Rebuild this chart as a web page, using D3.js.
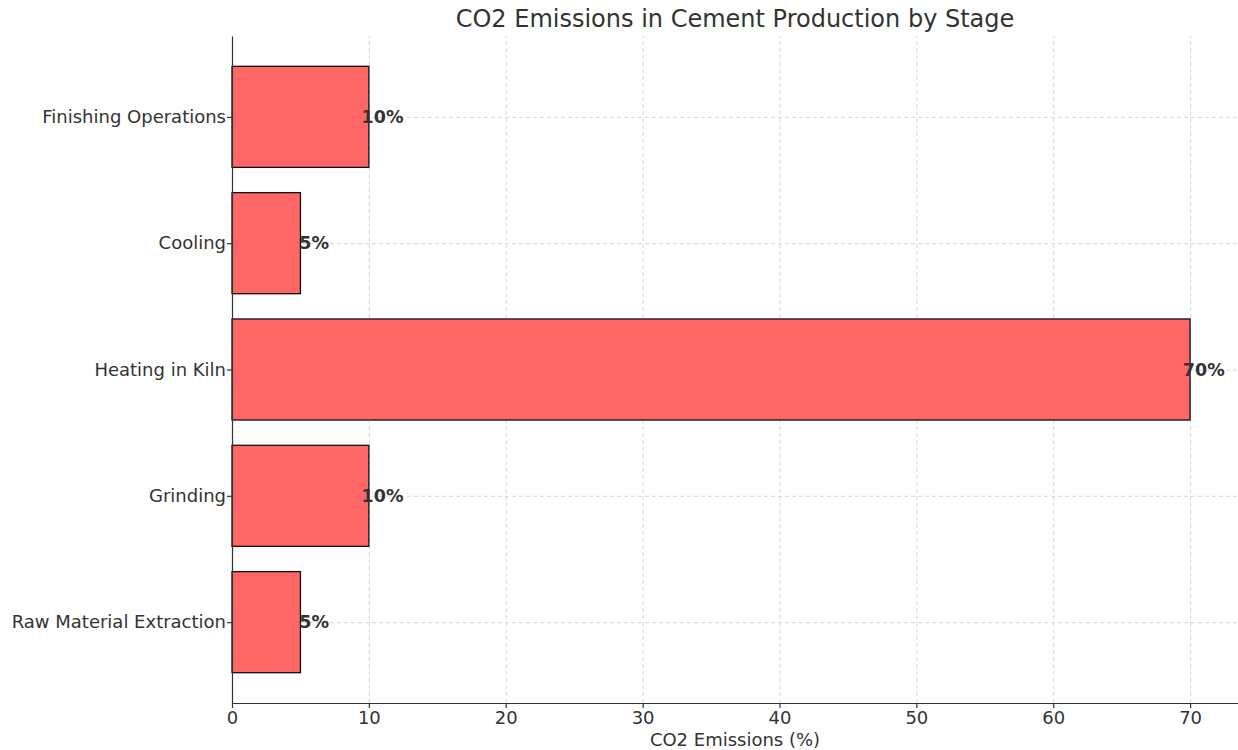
<!DOCTYPE html>
<html lang="en">
<head>
<meta charset="utf-8">
<title>CO2 Emissions in Cement Production by Stage</title>
<script src="https://cdn.jsdelivr.net/npm/d3@7/dist/d3.min.js"></script>
<style>
body { margin: 0; background: #fff; }
svg { display: block; font-family: "DejaVu Sans", sans-serif; }
.grid line { stroke: #cccccc; stroke-dasharray: 4,3; stroke-width: 0.8; }
.grid .domain { display: none; }
.axis text { fill: #333; font-size: 18px; font-family: "DejaVu Sans", sans-serif; }
.axis line, .axis path { stroke: #333; stroke-width: 1.2; }
</style>
</head>
<body>
<svg width="1238" height="750"></svg>
<script>

var stages = ["Raw Material Extraction", "Grinding", "Heating in Kiln", "Cooling", "Finishing Operations"];
var emissions = [5, 10, 70, 5, 10];
var xTicks = [0, 10, 20, 30, 40, 50, 60, 70];

var svg = d3.select("svg"),
	margin = {top: 36, right: 0, bottom: 47, left: 232},
	width = 1238 - margin.left - margin.right,
	height = 750 - margin.top - margin.bottom;

var x = d3.scaleLinear().domain([0, 73.5]).range([0, width]);

// categorical positions like matplotlib: index -0.64 .. 4.64, first category at bottom
var y = d3.scaleLinear().domain([-0.64, stages.length - 1 + 0.64]).range([height, 0]);
var barH = y(0) - y(0.8);

var g = svg.append("g").attr("transform", "translate(" + margin.left + "," + margin.top + ")");

// gridlines
g.append("g").attr("class", "grid")
	.attr("transform", "translate(0," + height + ")")
	.call(d3.axisBottom(x).tickValues(xTicks).tickSize(-height).tickFormat(""));
g.append("g").attr("class", "grid")
	.call(d3.axisLeft(y).tickValues(d3.range(stages.length)).tickSize(-width).tickFormat(""));

// bars
g.selectAll(".bar").data(stages).enter().append("rect")
	.attr("class", "bar")
	.attr("x", x(0))
	.attr("y", function(d, i) { return y(i) - barH / 2; })
	.attr("width", function(d, i) { return x(emissions[i]) - x(0); })
	.attr("height", barH)
	.attr("fill", "#ff6666")
	.attr("stroke", "#111")
	.attr("stroke-width", 1.3);

// value labels
g.selectAll(".lbl").data(stages).enter().append("text")
	.attr("x", function(d, i) { return x(emissions[i] + 1); })
	.attr("y", function(d, i) { return y(i); })
	.attr("dy", "0.35em")
	.attr("text-anchor", "middle")
	.style("font-size", "17.5px")
	.style("font-weight", "bold")
	.style("fill", "#333")
	.text(function(d, i) { return emissions[i] + "%"; });

// axes
g.append("g").attr("class", "axis")
	.attr("transform", "translate(0," + height + ")")
	.call(d3.axisBottom(x).tickValues(xTicks).tickSize(5).tickPadding(3).tickSizeOuter(0));
g.append("g").attr("class", "axis")
	.call(d3.axisLeft(y).tickValues(d3.range(stages.length))
		.tickFormat(function(i) { return stages[i]; }).tickSize(5).tickPadding(1).tickSizeOuter(0));

// axis label
svg.append("text")
	.attr("x", margin.left + width / 2)
	.attr("y", 746)
	.attr("text-anchor", "middle")
	.style("font-size", "18px")
	.style("fill", "#333")
	.text("CO2 Emissions (%)");

// title
svg.append("text")
	.attr("x", margin.left + width / 2)
	.attr("y", 27)
	.attr("text-anchor", "middle")
	.style("font-size", "24px")
	.style("fill", "#333")
	.text("CO2 Emissions in Cement Production by Stage");

</script>
</body>
</html>
